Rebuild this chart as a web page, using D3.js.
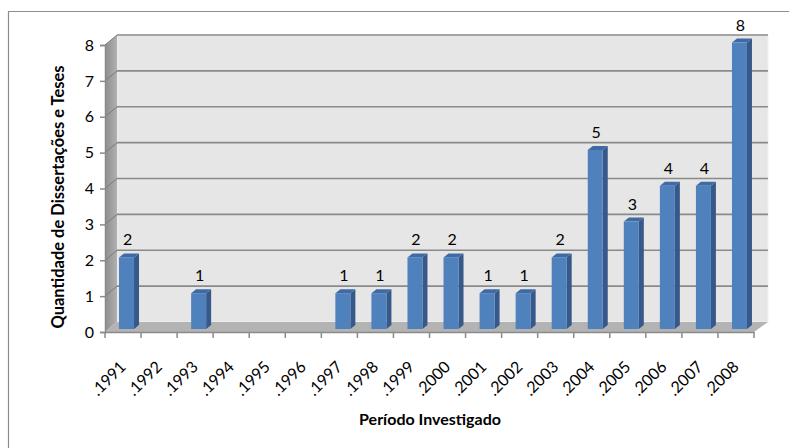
<!DOCTYPE html>
<html><head><meta charset="utf-8">
<script src="https://cdn.jsdelivr.net/npm/d3@7"></script>
<style>body{margin:0;background:#fff;} svg{display:block;}</style>
</head><body>
<svg id="c" width="789" height="448"></svg>
<script>
const categories = [".1991",".1992",".1993",".1994",".1995",".1996",".1997",".1998",".1999",".2000",".2001",".2002",".2003",".2004",".2005",".2006",".2007",".2008"];
const values = [2,0,1,0,0,0,1,1,2,2,1,1,2,5,3,4,4,8];
const yTicks = [0,1,2,3,4,5,6,7,8];
const yTitle = "Quantidade de Dissertações e Teses";
const xTitle = "Período Investigado";

const svg = d3.select("#c");
const font = "Lato, 'Open Sans', sans-serif";

// geometry
const frontLeft = 105, frontRight = 754, frontBase = 332, frontTop = 45;
const depthX = 12, depthY = -10;
const x = d3.scaleBand().domain(categories).range([frontLeft, frontRight]).paddingInner(0).paddingOuter(0);
const yFront = d3.scaleLinear().domain([0,8]).range([frontBase, frontTop]);
const yBack = d3.scaleLinear().domain([0,8]).range([frontBase+depthY, frontTop+depthY]);
const yBar = d3.scaleLinear().domain([0,8]).range([329, 329-8*35.8]);

// border
svg.append("path").attr("d","M8.5,448 L8.5,11.5 L789,11.5").attr("fill","none").attr("stroke","#8c8c8c").attr("stroke-width",1.2);

const defs = svg.append("defs");
const lg = defs.append("linearGradient").attr("id","lw").attr("x1",0).attr("x2",1).attr("y1",0).attr("y2",0);
lg.append("stop").attr("offset","0%").attr("stop-color","#8e8e8e");
lg.append("stop").attr("offset","100%").attr("stop-color","#b0b0b0");

// back wall
const bx0 = frontLeft+depthX, bx1 = frontRight+14;
svg.append("rect").attr("x",bx0).attr("y",yBack(8)).attr("width",bx1-bx0).attr("height",yBack(0)-yBack(8))
  .attr("fill","#e6e6e6").attr("stroke","#f2f2f2").attr("stroke-width",1);
// left wall
svg.append("path").attr("d",`M${frontLeft},${yFront(0)} L${frontLeft},${yFront(8)} L${bx0},${yBack(8)} L${bx0},${yBack(0)} Z`)
  .attr("fill","url(#lw)");
// floor
svg.append("path").attr("d",`M${frontLeft},${yFront(0)} L${frontRight},${yFront(0)} L${bx1},${yBack(0)} L${bx0},${yBack(0)} Z`)
  .attr("fill","#b3b3b3");

// gridlines
yTicks.forEach(v => {
  if (v === 0) return;
  svg.append("line").attr("x1",bx0).attr("x2",bx1).attr("y1",yBack(v)).attr("y2",yBack(v)).attr("stroke","#8a8a8a").attr("stroke-width",1.6);
  svg.append("line").attr("x1",frontLeft).attr("x2",bx0).attr("y1",yFront(v)).attr("y2",yBack(v)).attr("stroke","#7a7a7a").attr("stroke-width",1);
});

// axes
const yAxis = d3.axisLeft(yFront).tickValues(yTicks).tickSize(5).tickPadding(6);
const gy = svg.append("g").attr("transform",`translate(${frontLeft},0)`).call(yAxis);
gy.select(".domain").attr("stroke","#8a8a8a").attr("stroke-width",1.5);
gy.selectAll(".tick line").attr("stroke","#8a8a8a").attr("stroke-width",1.5);
gy.selectAll("text").attr("font-family",font).attr("font-size",16).attr("fill","#000");

const xAxis = d3.axisBottom(x).tickSize(0).tickPadding(0);
const gx = svg.append("g").attr("transform",`translate(0,${frontBase})`).call(xAxis);
gx.select(".domain").attr("stroke","#8a8a8a").attr("stroke-width",1.5);
// category boundary ticks
const boundaries = categories.map(c => x(c)).concat([frontRight]);
gx.selectAll(".bt").data(boundaries).enter().append("line").attr("class","bt")
  .attr("x1",d=>d).attr("x2",d=>d).attr("y1",0).attr("y2",6).attr("stroke","#8a8a8a").attr("stroke-width",1.5);
gx.selectAll(".tick text").attr("font-family",font).attr("font-size",16).attr("fill","#000")
  .attr("text-anchor","end").attr("dy",null).attr("y",null)
  .attr("transform","translate(1,33) rotate(-45)")
  .attr("dominant-baseline","middle");

// bars
const bw = 15, sdx = 5, sdy = -4;
const gb = svg.append("g");
categories.forEach((c,i) => {
  const v = values[i];
  if (!v) return;
  const cx = x(c) + x.bandwidth()/2;
  const x0 = cx - 4, x1 = x0 + bw;
  const yt = yBar(v), yb = yBar(0);
  gb.append("path").attr("d",`M${x1},${yb} L${x1},${yt} L${x1+sdx},${yt+sdy} L${x1+sdx},${yb+sdy} Z`).attr("fill","#36598a");
  gb.append("path").attr("d",`M${x0},${yt} L${x0+sdx},${yt+sdy} L${x1+sdx},${yt+sdy} L${x1},${yt} Z`).attr("fill","#3f6aa3");
  gb.append("rect").attr("x",x0).attr("y",yt).attr("width",bw).attr("height",yb-yt).attr("fill","#4f81bd");
  gb.append("text").attr("x",x0+bw/2+1).attr("y",yt+sdy-8).attr("text-anchor","middle")
    .attr("font-family",font).attr("font-size",16).attr("fill","#000").text(v);
});

// titles
svg.append("text").attr("x",430).attr("y",425).attr("text-anchor","middle").attr("font-family",font)
  .attr("font-weight","bold").attr("font-size",16).text(xTitle);
svg.append("text").attr("transform","translate(64,197) rotate(-90)").attr("text-anchor","middle").attr("font-family",font)
  .attr("font-weight","bold").attr("font-size",16.5).text(yTitle);
</script>
</body></html>
